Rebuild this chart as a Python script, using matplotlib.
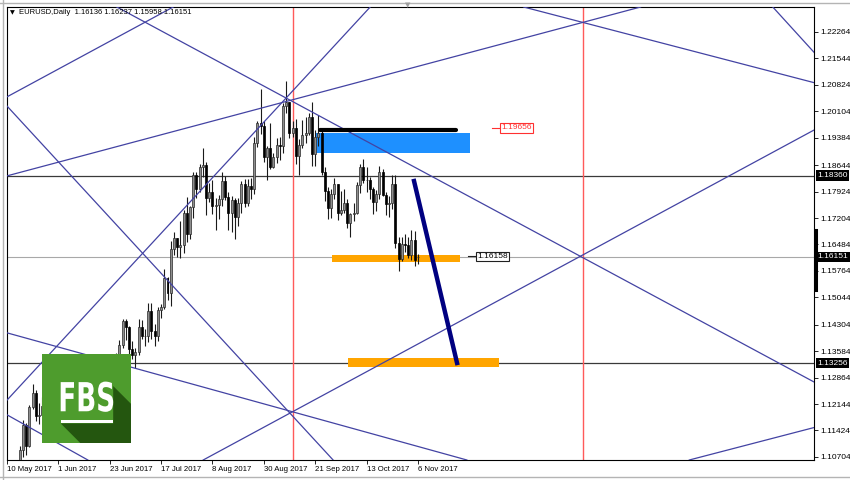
import numpy as np
import matplotlib.pyplot as plt
from matplotlib.patches import Rectangle, Polygon, PathPatch
from matplotlib.textpath import TextPath
from matplotlib.font_manager import FontProperties
from matplotlib.transforms import Affine2D, blended_transform_factory
from matplotlib.lines import Line2D

plt.rcParams['font.family'] = ['Liberation Sans', 'DejaVu Sans']

symbol = "EURUSD,Daily"

# daily bars, 10 May 2017 .. 6 Nov 2017 (bar index = trading day)
opens = [1.0924, 1.0870, 1.0865, 1.0932, 1.0982, 1.1088, 1.1158, 1.1101, 1.1206, 1.1244,
         1.1183, 1.1184, 1.1210, 1.1183, 1.1165, 1.1183, 1.1243, 1.1212, 1.1280, 1.1250,
         1.1277, 1.1257, 1.1212, 1.1196, 1.1200, 1.1213, 1.1216, 1.1149, 1.1198, 1.1148,
         1.1133, 1.1166, 1.1151, 1.1195, 1.1180, 1.1337, 1.1375, 1.1441, 1.1425, 1.1363,
         1.1347, 1.1355, 1.1423, 1.1399, 1.1400, 1.1467, 1.1412, 1.1399, 1.1470, 1.1478,
         1.1556, 1.1516, 1.1635, 1.1666, 1.1642, 1.1648, 1.1735, 1.1678, 1.1751, 1.1838,
         1.1799, 1.1860, 1.1864, 1.1774, 1.1792, 1.1754, 1.1756, 1.1772, 1.1820, 1.1778,
         1.1733, 1.1770, 1.1722, 1.1760, 1.1814, 1.1761, 1.1807, 1.1800, 1.1924, 1.1979,
         1.1970, 1.1886, 1.1911, 1.1859, 1.1885, 1.1918, 1.1915, 1.2026, 1.2035, 1.1952,
         1.1965, 1.1890, 1.1920, 1.1945, 1.1951, 1.1995, 1.1894, 1.1940, 1.1953, 1.1845,
         1.1793, 1.1747, 1.1787, 1.1812, 1.1734, 1.1742, 1.1760, 1.1706, 1.1730, 1.1735,
         1.1809, 1.1860, 1.1823, 1.1823, 1.1799, 1.1765, 1.1786, 1.1845, 1.1784, 1.1759,
         1.1760, 1.1813, 1.1653, 1.1608, 1.1650, 1.1646, 1.1619, 1.1660, 1.16136]
highs = [1.0935, 1.0887, 1.0940, 1.0990, 1.1099, 1.1170, 1.1162, 1.1212, 1.1268, 1.1252,
         1.1216, 1.1234, 1.1218, 1.1192, 1.1190, 1.1251, 1.1256, 1.1285, 1.1284, 1.1296,
         1.1280, 1.1270, 1.1228, 1.1227, 1.1230, 1.1296, 1.1220, 1.1209, 1.1211, 1.1164,
         1.1175, 1.1188, 1.1210, 1.1213, 1.1352, 1.1389, 1.1445, 1.1446, 1.1427, 1.1387,
         1.1368, 1.1446, 1.1442, 1.1418, 1.1489, 1.1490, 1.1433, 1.1479, 1.1487, 1.1583,
         1.1561, 1.1658, 1.1683, 1.1667, 1.1712, 1.1741, 1.1777, 1.1753, 1.1846, 1.1845,
         1.1868, 1.1910, 1.1872, 1.1815, 1.1825, 1.1775, 1.1783, 1.1846, 1.1834, 1.1792,
         1.1780, 1.1775, 1.1774, 1.1822, 1.1827, 1.1826, 1.1829, 1.1940, 1.1983, 1.2070,
         1.1983, 1.1917, 1.1980, 1.1897, 1.1937, 1.1941, 1.2034, 1.2092, 1.2036, 1.1985,
         1.1990, 1.1935, 1.1988, 1.1995, 1.2005, 1.2035, 1.1960, 1.2000, 1.1956, 1.1860,
         1.1805, 1.1800, 1.1830, 1.1812, 1.1793, 1.1800, 1.1772, 1.1734, 1.1760, 1.1817,
         1.1868, 1.1880, 1.1860, 1.1831, 1.1805, 1.1796, 1.1861, 1.1853, 1.1790, 1.1780,
         1.1838, 1.1837, 1.1670, 1.1668, 1.1678, 1.1669, 1.1687, 1.1686, 1.16237]
lows = [1.0865, 1.0838, 1.0858, 1.0925, 1.0970, 1.1070, 1.1077, 1.1097, 1.1202, 1.1167,
        1.1161, 1.1184, 1.1163, 1.1150, 1.1111, 1.1176, 1.1207, 1.1205, 1.1231, 1.1245,
        1.1239, 1.1195, 1.1170, 1.1180, 1.1177, 1.1192, 1.1132, 1.1130, 1.1139, 1.1123,
        1.1119, 1.1140, 1.1145, 1.1172, 1.1174, 1.1311, 1.1366, 1.1389, 1.1347, 1.1338,
        1.1312, 1.1349, 1.1390, 1.1371, 1.1384, 1.1392, 1.1371, 1.1385, 1.1449, 1.1474,
        1.1496, 1.1480, 1.1620, 1.1613, 1.1612, 1.1625, 1.1654, 1.1664, 1.1720, 1.1774,
        1.1791, 1.1833, 1.1729, 1.1763, 1.1730, 1.1688, 1.1718, 1.1754, 1.1770, 1.1688,
        1.1681, 1.1662, 1.1700, 1.1734, 1.1749, 1.1753, 1.1773, 1.1786, 1.1913, 1.1950,
        1.1873, 1.1823, 1.1855, 1.1856, 1.1870, 1.1879, 1.1896, 1.2007, 1.1938, 1.1940,
        1.1868, 1.1838, 1.1910, 1.1924, 1.1946, 1.1861, 1.1861, 1.1915, 1.1837, 1.1768,
        1.1717, 1.1721, 1.1771, 1.1716, 1.1728, 1.1733, 1.1693, 1.1669, 1.1713, 1.1730,
        1.1788, 1.1815, 1.1790, 1.1771, 1.1730, 1.1740, 1.1771, 1.1780, 1.1729, 1.1724,
        1.1745, 1.1640, 1.1575, 1.1604, 1.1627, 1.1612, 1.1606, 1.1590, 1.15958]
closes = [1.0870, 1.0865, 1.0932, 1.0982, 1.1088, 1.1158, 1.1101, 1.1206, 1.1244, 1.1183,
          1.1184, 1.1210, 1.1183, 1.1165, 1.1183, 1.1243, 1.1212, 1.1280, 1.1250, 1.1277,
          1.1257, 1.1212, 1.1196, 1.1200, 1.1213, 1.1216, 1.1149, 1.1198, 1.1148, 1.1133,
          1.1166, 1.1151, 1.1195, 1.1180, 1.1337, 1.1375, 1.1441, 1.1425, 1.1363, 1.1347,
          1.1355, 1.1423, 1.1399, 1.1400, 1.1467, 1.1412, 1.1399, 1.1470, 1.1478, 1.1556,
          1.1516, 1.1635, 1.1666, 1.1642, 1.1648, 1.1735, 1.1678, 1.1751, 1.1838, 1.1799,
          1.1860, 1.1864, 1.1774, 1.1792, 1.1754, 1.1756, 1.1772, 1.1820, 1.1778, 1.1733,
          1.1770, 1.1722, 1.1760, 1.1814, 1.1761, 1.1807, 1.1800, 1.1924, 1.1979, 1.1970,
          1.1886, 1.1911, 1.1859, 1.1885, 1.1918, 1.1915, 1.2026, 1.2035, 1.1952, 1.1965,
          1.1890, 1.1920, 1.1945, 1.1951, 1.1995, 1.1894, 1.1940, 1.1953, 1.1845, 1.1793,
          1.1747, 1.1787, 1.1812, 1.1734, 1.1742, 1.1760, 1.1706, 1.1730, 1.1735, 1.1809,
          1.1860, 1.1823, 1.1823, 1.1799, 1.1765, 1.1786, 1.1845, 1.1784, 1.1759, 1.1760,
          1.1813, 1.1653, 1.1608, 1.1650, 1.1646, 1.1619, 1.1660, 1.1606, 1.16151]

date_ticks = [0, 16, 32, 48, 64, 80, 96, 112, 128]
date_labels = ["10 May 2017", "1 Jun 2017", "23 Jun 2017", "17 Jul 2017", "8 Aug 2017",
               "30 Aug 2017", "21 Sep 2017", "13 Oct 2017", "6 Nov 2017"]

price_ticks = [1.22264, 1.21544, 1.20824, 1.20104, 1.19384, 1.18644, 1.17924, 1.17204,
               1.16484, 1.15764, 1.15044, 1.14304, 1.13584, 1.12864, 1.12144, 1.11424, 1.10704]

# horizontal levels and vertical time lines
level_high = 1.18360
level_bid = 1.16151
level_low = 1.13256
vline_bars = [89, 179.4]

# gann lines, each through two (bar, price) anchors
gann_lines = [
    ((0, 1.2050), (51.7, 1.2294)),
    ((34.3, 1.2294), (250.2, 1.1280)),
    ((0, 1.1225), (113.1, 1.2294)),
    ((0, 1.1835), (197.2, 1.2294)),
    ((159.8, 1.2297), (250.8, 1.2090)),
    ((238.6, 1.2294), (250.8, 1.2177)),
    ((0, 1.1408), (143.3, 1.1062)),
    ((0, 1.1185), (25.2, 1.1062)),
    ((0, 1.2025), (101.6, 1.1062)),
    ((61.1, 1.1062), (250.2, 1.1954)),
    ((212.5, 1.1062), (250.8, 1.1149)),
]

# zones: (bar_from, bar_to, price_low, price_high)
blue_zone = (96.0, 144.2, 1.1897, 1.1952)
orange_zones = [(101.2, 141.1, 1.1601, 1.1620), (106.2, 153.3, 1.1315, 1.1340)]
resistance_line = ((97.5, 1.1960), (139.9, 1.1960))
target_line = ((126.8, 1.1821), (140.2, 1.1326))
red_label = (151.1, 153.6, 1.19656)
black_label = (143.6, 146.3, 1.16158)

W, H = 850, 480
fig = plt.figure(figsize=(W / 100, H / 100), dpi=100)
fig.patch.set_facecolor('white')
ax = fig.add_axes([7 / W, (H - 460) / H, (814 - 7) / W, (460 - 7) / H])
ax.set_xlim(0, 251.4)
ax.set_ylim(1.10621, 1.22944)

o, h, l, c = (np.array(v) for v in (opens, highs, lows, closes))
idx = np.arange(len(c))
up = c >= o

# zones under candles
b0, b1, p0, p1 = blue_zone
ax.add_patch(Rectangle((b0, p0), b1 - b0, p1 - p0, color='#1e90ff', lw=0, zorder=1.5))
for b0, b1, p0, p1 in orange_zones:
    ax.add_patch(Rectangle((b0, p0), b1 - b0, p1 - p0, color='#ffa500', lw=0, zorder=1.5))

ax.axhline(level_high, color='#3a3a3a', lw=0.9, zorder=1)
ax.axhline(level_low, color='#3a3a3a', lw=0.9, zorder=1)
ax.axhline(level_bid, color='#a8a8a8', lw=0.8, zorder=1)
for b in vline_bars:
    ax.axvline(b, color='#ff5a5a', lw=1.0, zorder=1)

# candles
ax.vlines(idx, l, h, color='#1a1a1a', lw=0.8, zorder=3)
ax.bar(idx[up], np.maximum((c - o)[up], 0.00003), bottom=o[up], width=0.62,
       color='#8e8e8e', edgecolor='#2a2a2a', lw=0.5, zorder=4)
ax.bar(idx[~up], (o - c)[~up], bottom=c[~up], width=0.62,
       color='black', edgecolor='black', lw=0.5, zorder=4)

for p1, p2 in gann_lines:
    ax.axline(p1, p2, color='#4343a3', lw=0.9, zorder=5)

(x1, y1), (x2, y2) = resistance_line
ax.plot([x1, x2], [y1, y2], color='black', lw=3.0, solid_capstyle='round', zorder=6)
(x1, y1), (x2, y2) = target_line
ax.plot([x1, x2], [y1, y2], color='#000080', lw=3.2, zorder=6)

bx0, bx1, pr = red_label
ax.plot([bx0, bx1], [pr, pr], color='#ff3030', lw=0.8, zorder=6)
ax.text(bx1 + 0.3, pr, f"{pr:.5f}", color='#ff3030', fontsize=6, va='center', ha='left',
        bbox=dict(boxstyle='square,pad=0.15', fc='white', ec='#ff3030', lw=0.8), zorder=7)
bx0, bx1, pr = black_label
ax.plot([bx0, bx1], [pr, pr], color='#202020', lw=0.8, zorder=6)
ax.text(bx1 + 0.3, pr, f"{pr:.5f}", color='black', fontsize=6, va='center', ha='left',
        bbox=dict(boxstyle='square,pad=0.15', fc='white', ec='#202020', lw=0.8), zorder=7)

# axes
for s in ax.spines.values():
    s.set_color('black')
    s.set_linewidth(0.8)
ax.yaxis.tick_right()
ax.set_yticks(price_ticks)
ax.set_yticklabels([f"{p:.5f}" for p in price_ticks])
ax.tick_params(axis='y', direction='out', length=3, width=0.6, pad=1.5, labelsize=6)
ax.set_xticks(date_ticks)
ax.set_xticklabels(date_labels)
ax.tick_params(axis='x', direction='out', length=3, width=0.6, pad=1.5, labelsize=5.6)
plt.setp(ax.get_xticklabels(), ha='left')

trans = blended_transform_factory(ax.transAxes, ax.transData)
for pr in (level_high, level_bid, level_low):
    ax.text(1.004, pr, f"{pr:.5f}", transform=trans, color='white', fontsize=6,
            va='center', ha='left', clip_on=False, zorder=8,
            bbox=dict(boxstyle='square,pad=0.2', fc='black', ec='black', lw=0))
ax.plot([1.002, 1.002], [1.1688, 1.1524], transform=trans, color='black', lw=2.2,
        clip_on=False, zorder=8)

# header
fig.text(10 / W, 1 - 13 / H, "\u25bc", fontsize=4.5, family=['DejaVu Sans'], va='center')
fig.text(19 / W, 1 - 13 / H, f"{symbol}  {o[-1]:.5f} {h[-1]:.5f} {l[-1]:.5f} {c[-1]:.5f}",
         fontsize=5.5, va='center', ha='left')
fig.text(408 / W, 1 - 5 / H, "\u25bc", fontsize=5, color='#a0a0a0', family=['DejaVu Sans'],
         va='center', ha='center')

# window frame
fig.add_artist(Line2D([3 / W, 3 / W], [0, 1], color='#b4b4b4', lw=1.0))
fig.add_artist(Line2D([0, 1], [1 - 3 / H, 1 - 3 / H], color='#b4b4b4', lw=1.0))
fig.add_artist(Line2D([0, 1], [1 - 477 / H, 1 - 477 / H], color='#b4b4b4', lw=1.0))

# FBS logo
lax = fig.add_axes([42 / W, (H - 443) / H, 89 / W, 89 / H])
lax.set_xlim(0, 1)
lax.set_ylim(1, 0)
lax.axis('off')
lax.add_patch(Rectangle((0, 0), 1, 1, fc='#4e9c2d', ec='none'))
lax.add_patch(Polygon([(0.76, 0.32), (1.0, 0.56), (1.0, 1.0), (0.43, 1.0), (0.21, 0.78),
                       (0.80, 0.78), (0.80, 0.36)], closed=True, fc='#24560f', ec='none'))
tp = TextPath((0, 0), "FBS", size=1, prop=FontProperties(family='DejaVu Sans', weight='bold'))
ext = tp.get_extents()
tr = (Affine2D().translate(-ext.x0, -ext.y0)
      .scale(0.59 / ext.width, -0.34 / ext.height).translate(0.21, 0.65))
lax.add_patch(PathPatch(tr.transform_path(tp), fc='white', ec='none'))
lax.add_patch(Rectangle((0.21, 0.74), 0.59, 0.04, fc='white', ec='none'))

fig.savefig("out.png", dpi=100)
